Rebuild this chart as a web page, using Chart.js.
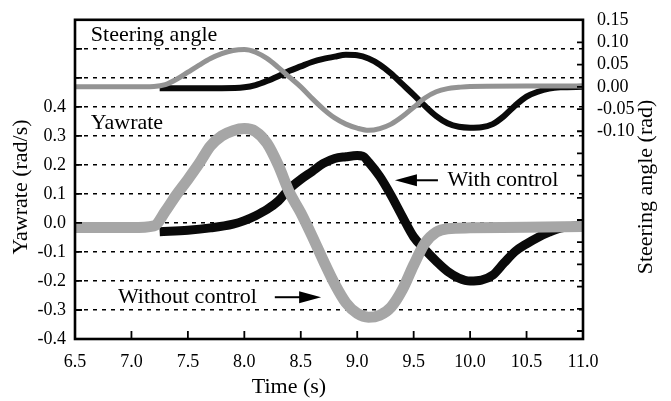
<!DOCTYPE html>
<html>
<head>
<meta charset="utf-8">
<script src="https://cdn.jsdelivr.net/npm/chart.js@4.4.0/dist/chart.umd.min.js"></script>
<style>
  html, body { margin: 0; padding: 0; background: #fff; }
  canvas { display: block; }
</style>
</head>
<body>
<canvas id="chart" width="671" height="401"></canvas>
<script>
// axis ticks
const timeTicks = [6.5, 7.0, 7.5, 8.0, 8.5, 9.0, 9.5, 10.0, 10.5, 11.0];
const yawTicks = [-0.4, -0.3, -0.2, -0.1, 0.0, 0.1, 0.2, 0.3, 0.4, 0.5, 0.6];
const yawLabelMax = 0.4;
const steerTicks = [-0.55, -0.5, -0.45, -0.4, -0.35, -0.3, -0.25, -0.2, -0.15, -0.1, -0.05, 0.0, 0.05, 0.1, 0.15];
const steerLabelMin = -0.1;

// steering angle (rad), without control
const steerNoCtrlTime = [6.5, 7.0, 7.2, 7.3, 7.4, 7.5, 7.6, 7.7, 7.8, 7.9, 8.0, 8.1, 8.2, 8.3, 8.4, 8.5, 8.6, 8.7, 8.8, 8.9, 9.0, 9.1, 9.2, 9.3, 9.4, 9.5, 9.6, 9.7, 9.8, 9.9, 10.0, 10.5, 11.0];
const steerNoCtrl = [0.0, 0.0, 0.001, 0.005, 0.017, 0.033, 0.049, 0.064, 0.075, 0.082, 0.084, 0.078, 0.064, 0.044, 0.022, 0.0, -0.026, -0.05, -0.07, -0.084, -0.093, -0.098, -0.094, -0.084, -0.067, -0.046, -0.025, -0.011, -0.004, -0.001, 0.001, 0.002, 0.002];

// steering angle (rad), with control
const steerCtrlTime = [7.25, 7.5, 7.8, 8.0, 8.1, 8.2, 8.3, 8.4, 8.5, 8.6, 8.7, 8.8, 8.9, 9.0, 9.1, 9.2, 9.3, 9.4, 9.5, 9.6, 9.7, 9.8, 9.9, 10.0, 10.1, 10.2, 10.3, 10.4, 10.5, 10.6, 10.7, 10.8, 11.0];
const steerCtrl = [-0.003, -0.003, -0.003, -0.001, 0.004, 0.013, 0.024, 0.036, 0.046, 0.056, 0.063, 0.068, 0.072, 0.071, 0.064, 0.05, 0.03, 0.006, -0.018, -0.043, -0.066, -0.082, -0.09, -0.092, -0.091, -0.084, -0.066, -0.042, -0.022, -0.011, -0.004, -0.001, 0.0];

// yawrate (rad/s), without control
const yawNoCtrlTime = [6.5, 7.0, 7.2, 7.3, 7.4, 7.5, 7.6, 7.7, 7.8, 7.9, 8.0, 8.1, 8.2, 8.3, 8.4, 8.5, 8.6, 8.7, 8.8, 8.9, 9.0, 9.1, 9.2, 9.3, 9.4, 9.5, 9.6, 9.7, 9.8, 10.0, 10.5, 11.0];
const yawNoCtrl = [-0.016, -0.016, -0.01, 0.04, 0.098, 0.15, 0.205, 0.265, 0.3, 0.318, 0.325, 0.315, 0.275, 0.2, 0.105, 0.035, -0.045, -0.13, -0.21, -0.275, -0.312, -0.325, -0.318, -0.29, -0.23, -0.145, -0.07, -0.032, -0.02, -0.017, -0.015, -0.012];

// yawrate (rad/s), with control
const yawCtrlTime = [7.25, 7.5, 7.7, 7.9, 8.0, 8.1, 8.2, 8.3, 8.4, 8.5, 8.6, 8.7, 8.8, 8.9, 9.0, 9.05, 9.1, 9.2, 9.3, 9.4, 9.5, 9.6, 9.7, 9.8, 9.9, 10.0, 10.1, 10.2, 10.3, 10.4, 10.5, 10.6, 10.7, 10.8, 11.0];
const yawCtrl = [-0.03, -0.025, -0.017, -0.004, 0.008, 0.025, 0.046, 0.075, 0.118, 0.15, 0.177, 0.205, 0.222, 0.228, 0.232, 0.23, 0.21, 0.16, 0.095, 0.022, -0.048, -0.092, -0.132, -0.167, -0.19, -0.2, -0.197, -0.18, -0.138, -0.098, -0.072, -0.05, -0.032, -0.018, -0.008];

const SERIF = '"Liberation Serif"';

function pts(ts, vs) {
  return ts.map((t, i) => ({ x: t, y: vs[i] }));
}

// text labels placed in data units (time, yawrate)
const notes = [
  { text: "Steering angle", t: 6.64, v: 0.646 },
  { text: "Yawrate", t: 6.64, v: 0.344 },
  { text: "With control", t: 9.8, v: 0.147 },
  { text: "Without control", t: 6.88, v: -0.256 },
];
const arrows = [
  { from: 9.715, to: 9.334, v: 0.147 },
  { from: 8.27, to: 8.68, v: -0.256 },
];

const framePlugin = {
  id: "frame",
  afterDraw(chart) {
    const { ctx, chartArea: a, scales } = chart;
    const xs = scales.x, ys = scales.yaw, rs = scales.steer;
    ctx.save();
    ctx.strokeStyle = "#000";
    ctx.fillStyle = "#000";

    // inward tick marks
    ctx.lineWidth = 1.8;
    ctx.beginPath();
    xs.ticks.forEach((tk) => {
      const px = xs.getPixelForValue(tk.value);
      if (px > a.left + 2 && px < a.right - 2) { ctx.moveTo(px, a.bottom); ctx.lineTo(px, a.bottom - 8); }
    });
    ys.ticks.forEach((tk) => {
      const py = ys.getPixelForValue(tk.value);
      if (py > a.top + 2 && py < a.bottom - 2) { ctx.moveTo(a.left, py); ctx.lineTo(a.left + 7, py); }
    });
    rs.ticks.forEach((tk) => {
      const py = rs.getPixelForValue(tk.value);
      if (py > a.top + 2 && py < a.bottom - 2) { ctx.moveTo(a.right, py); ctx.lineTo(a.right - 6, py); }
    });
    ctx.stroke();

    // frame
    ctx.lineWidth = 2.6;
    ctx.strokeRect(a.left, a.top, a.right - a.left, a.bottom - a.top);

    // notes
    ctx.font = "22px " + SERIF;
    ctx.textAlign = "left";
    ctx.textBaseline = "middle";
    notes.forEach((n) => ctx.fillText(n.text, xs.getPixelForValue(n.t), ys.getPixelForValue(n.v)));

    // arrows
    ctx.lineWidth = 2;
    arrows.forEach((ar) => {
      const x0 = xs.getPixelForValue(ar.from), x1 = xs.getPixelForValue(ar.to), y = ys.getPixelForValue(ar.v);
      const dir = Math.sign(x1 - x0);
      ctx.beginPath();
      ctx.moveTo(x0, y);
      ctx.lineTo(x1 - dir * 18, y);
      ctx.stroke();
      ctx.beginPath();
      ctx.moveTo(x1, y);
      ctx.lineTo(x1 - dir * 22, y - 6);
      ctx.lineTo(x1 - dir * 22, y + 6);
      ctx.closePath();
      ctx.fill();
    });

    // axis titles
    ctx.textAlign = "center";
    ctx.fillText("Time (s)", (a.left + a.right) / 2 - 40, 387);
    ctx.save();
    ctx.translate(21, 187);
    ctx.rotate(-Math.PI / 2);
    ctx.fillText("Yawrate (rad/s)", 0, 0);
    ctx.restore();
    ctx.save();
    ctx.translate(646, 187);
    ctx.rotate(-Math.PI / 2);
    ctx.fillText("Steering angle (rad)", 0, 0);
    ctx.restore();

    ctx.restore();
  },
};

const tickFont = { family: SERIF, size: 18 };

new Chart(document.getElementById("chart"), {
  type: "line",
  data: {
    datasets: [
      { label: "Yawrate without control", data: pts(yawNoCtrlTime, yawNoCtrl), yAxisID: "yaw", borderColor: "#a6a6a6", borderWidth: 11, order: 1 },
      { label: "Yawrate with control", data: pts(yawCtrlTime, yawCtrl), yAxisID: "yaw", borderColor: "#0a0a0a", borderWidth: 9, order: 2 },
      { label: "Steering without control", data: pts(steerNoCtrlTime, steerNoCtrl), yAxisID: "steer", borderColor: "#939393", borderWidth: 5, order: 3 },
      { label: "Steering with control", data: pts(steerCtrlTime, steerCtrl), yAxisID: "steer", borderColor: "#0a0a0a", borderWidth: 6, order: 4 },
    ],
  },
  options: {
    responsive: false,
    devicePixelRatio: 1,
    animation: false,
    parsing: false,
    layout: { padding: { top: 12, left: 0, right: 0, bottom: 0 } },
    elements: {
      point: { radius: 0 },
      line: { cubicInterpolationMode: "monotone", borderCapStyle: "butt", borderJoinStyle: "round" },
    },
    plugins: { legend: { display: false }, tooltip: { enabled: false } },
    scales: {
      x: {
        type: "linear",
        min: 6.5,
        max: 11.0,
        afterBuildTicks: (s) => { s.ticks = timeTicks.map((v) => ({ value: v })); },
        afterFit: (s) => { s.height = 62; },
        ticks: { font: tickFont, color: "#000", padding: 4, maxRotation: 0, autoSkip: false, callback: (v) => v.toFixed(1) },
        grid: { display: false },
        border: { display: false },
      },
      yaw: {
        type: "linear",
        position: "left",
        min: -0.4,
        max: 0.7,
        afterBuildTicks: (s) => { s.ticks = yawTicks.map((v) => ({ value: v })); },
        afterFit: (s) => { s.width = 75; },
        ticks: { font: tickFont, color: "#000", padding: 9, autoSkip: false, callback: (v) => (v <= yawLabelMax + 1e-9 ? v.toFixed(1) : "") },
        grid: { color: "#000", lineWidth: 1.6, drawTicks: false },
        border: { display: false, dash: [4, 5] },
      },
      steer: {
        type: "linear",
        position: "right",
        min: -0.568,
        max: 0.151,
        afterBuildTicks: (s) => { s.ticks = steerTicks.map((v) => ({ value: v })); },
        afterFit: (s) => { s.width = 88; },
        ticks: { font: tickFont, color: "#000", padding: 6, autoSkip: false, callback: (v) => (v >= steerLabelMin - 1e-9 ? v.toFixed(2) : "") },
        grid: { display: false },
        border: { display: false },
      },
    },
  },
  plugins: [framePlugin],
});
</script>
</body>
</html>
